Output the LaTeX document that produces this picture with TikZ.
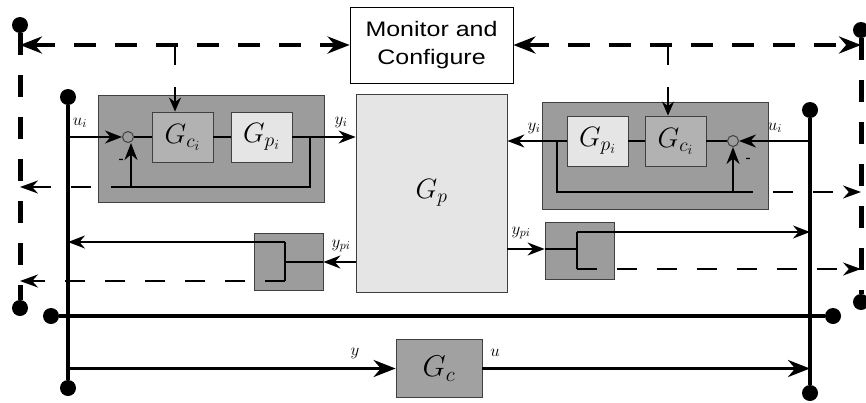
\RequirePackage{fix-cm}
\documentclass[tikz,border=0pt]{standalone}
\usepackage{fontspec}
\setmainfont{Liberation Serif}
\setsansfont{Liberation Sans}
\newfontfamily\monfont[FakeStretch=1.19]{Liberation Sans}
\usetikzlibrary{arrows.meta,positioning}

\begin{document}
\begin{tikzpicture}[
    x=1pt, y=-1pt,
    block/.style={rectangle, draw=black!75, line width=0.8pt, inner sep=0pt},
    module/.style={block, fill=black!39, minimum width=226pt, minimum height=107pt},
    inner/.style={block, minimum width=61pt, minimum height=50pt, font=\fontsize{28}{28}\selectfont},
    split/.style={block, fill=black!39, minimum width=69pt, minimum height=57pt},
    sum/.style={circle, draw=black!75, line width=1pt, minimum size=11pt, inner sep=0pt},
    dot/.style={circle, fill=black, minimum size=16pt, inner sep=0pt},
    lbl/.style={font=\fontsize{17}{17}\selectfont, inner sep=1pt},
    minus/.style={font=\fontsize{15}{15}\bfseries, inner sep=0pt},
    line/.style={line width=1.6pt},
    sig/.style={-{Stealth[length=17pt,width=13pt]}, line width=1.8pt},
    bigsig/.style={-{Stealth[length=22pt,width=17pt]}, line width=3.5pt},
    bus/.style={line width=4pt},
    dbus/.style={line width=5pt, dash pattern=on 22pt off 20pt},
    dsig/.style={-{Stealth[length=18pt,width=13pt]}, line width=1.8pt, dash pattern=on 20pt off 20pt},
    ctl/.style={{Stealth[length=22pt,width=17pt]}-{Stealth[length=22pt,width=17pt]}, line width=4.5pt, dash pattern=on 22pt off 19pt},
    ctlthin/.style={-{Stealth[length=14pt,width=12pt]}, line width=2pt, dash pattern=on 20pt off 22pt}
]
\useasboundingbox (0,0) rectangle (866,402);

% Monitor and plant
\node[block, fill=white, draw=black, minimum width=163pt, minimum height=76pt, align=center,
      font=\monfont\fontsize{21}{28}\selectfont] (mon) at (431.5,45) {Monitor and\\Configure};
\node[block, fill=black!10, minimum width=151pt, minimum height=198pt,
      font=\fontsize{28}{28}\selectfont] (gp) at (431.5,193) {$G_p$};

% Buses
\node[dot] (lbusT) at (68,97) {};
\node[dot] (lbusB) at (68,388) {};
\node[dot] (rbusT) at (810,110) {};
\node[dot] (rbusB) at (810,393) {};
\node[dot] (hbusL) at (51,316) {};
\node[dot] (hbusR) at (833,316) {};
\node[dot] (ldashT) at (20,25) {};
\node[dot] (ldashB) at (20,308) {};
\node[dot] (rdashT) at (861,30) {};
\node[dot] (rdashB) at (861,302) {};

\draw[bus] (lbusT) -- (lbusB);
\draw[bus] (rbusT) -- (rbusB);
\draw[bus] (hbusL) -- (hbusR);
\draw[dbus] (ldashT) -- (ldashB);
\draw[dbus] (rdashT) -- (rdashB);

% Left loop
\node[module] (modL) at (211,148.5) {};
\node[inner, fill=black!30] (gciL) at (182.5,137) {$G_{c_i}$};
\node[inner, fill=black!10] (gpiL) at (261.5,137) {$G_{p_i}$};
\node[sum] (sumL) at (128,137) {};
\coordinate (fbL) at (310,137);
\coordinate (fbLb) at (131,187);

\draw[sig] (lbusT |- sumL) -- (sumL);
\draw[line] (sumL) -- (gciL);
\draw[line] (gciL) -- (gpiL);
\draw[sig] (gpiL.east) -- (gpiL.east -| gp.west);
\draw[line] (fbL) |- (fbLb);
\draw[sig] (fbLb) -- (fbLb |- sumL.south);
\draw[dsig] (fbLb) -- (fbLb -| ldashT);

\node[lbl] (uiL) at (80,123) {$u_i$};
\node[lbl] (yiL) at (341,122) {$y_i$};
\node[minus] (minL) at (121,161) {-};

% Right loop
\node[module] (modR) at (655,156) {};
\node[inner, fill=black!10] (gpiR) at (597.5,141) {$G_{p_i}$};
\node[inner, fill=black!30] (gciR) at (675.5,141) {$G_{c_i}$};
\node[sum] (sumR) at (733,141) {};
\coordinate (fbR) at (557,141);
\coordinate (fbRb) at (733,192);

\draw[sig] (rbusT |- sumR) -- (sumR);
\draw[line] (sumR) -- (gciR);
\draw[line] (gciR) -- (gpiR);
\draw[sig] (gpiR.west) -- (gpiR.west -| gp.east);
\draw[line] (fbR) |- (fbRb);
\draw[sig] (fbRb) -- (sumR);
\draw[dsig] (fbRb) -- (fbRb -| rdashT);

\node[lbl] (yiR) at (534,128) {$y_i$};
\node[lbl] (uiR) at (775,128) {$u_i$};
\node[minus] (minR) at (748,160) {-};

% Monitor links
\coordinate (ltop) at (20,45);
\coordinate (rtop) at (861,45);
\coordinate (tL) at (175,45);
\coordinate (tR) at (668,45);
\draw[ctl] (ltop) -- (mon.west);
\draw[ctl] (mon.east) -- (rtop);
\draw[ctlthin] (tL) -- (tL |- gciL.north);
\draw[ctlthin] (tR) -- (tR |- gciR.north);

% Output splitters
\node[split] (splL) at (288.5,261.5) {};
\coordinate (sLm) at (285,262);
\coordinate (sLt) at (285,242);
\coordinate (sLb) at (285,281);
\draw[sig] (gp.west |- sLm) -- (sLm -| splL.east);
\draw[line] (sLm -| splL.east) -- (sLm);
\draw[line] (sLt) -- (sLb);
\draw[sig] (sLt) -- (sLt -| lbusT);
\draw[dsig] (sLb) -- (sLb -| ldashT);
\node[lbl] (ypL) at (341,246) {$y_{pi}$};

\node[split] (splR) at (579.5,250.5) {};
\coordinate (sRm) at (577,249);
\coordinate (sRt) at (577,232);
\coordinate (sRb) at (577,269);
\draw[sig] (gp.east |- sRm) -- (sRm -| splR.west);
\draw[line] (sRm -| splR.west) -- (sRm);
\draw[line] (sRt) -- (sRb);
\draw[sig] (sRt) -- (sRt -| rbusT);
\draw[dsig] (sRb) -- (sRb -| rdashT);
\node[lbl] (ypR) at (521,233) {$y_{pi}$};

% Global controller
\node[block, fill=black!37, minimum width=86pt, minimum height=58pt,
      font=\fontsize{30}{30}\selectfont] (gc) at (439,368.5) {$G_c$};
\draw[bigsig] (lbusT |- gc) -- (gc.west);
\draw[bigsig] (gc.east) -- (gc.east -| rbusT);
\node[lbl] (yG) at (355,353) {$y$};
\node[lbl] (uG) at (495,353) {$u$};

\end{tikzpicture}
\end{document}
